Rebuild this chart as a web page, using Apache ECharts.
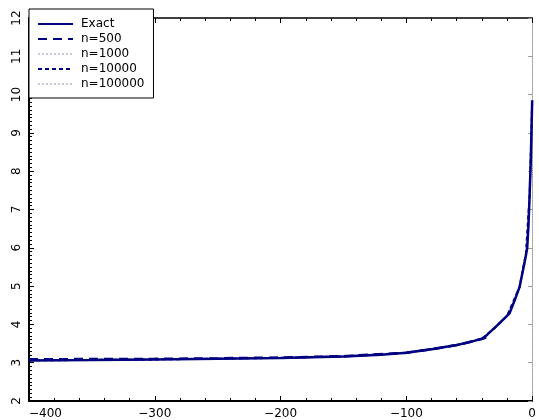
<!DOCTYPE html>
<html>
<head>
<meta charset="utf-8">
<script src="https://cdn.jsdelivr.net/npm/echarts@6/dist/echarts.min.js"></script>
<style>html,body{margin:0;padding:0;background:#fff}#c{width:539px;height:420px}</style>
</head>
<body>
<div id="c"></div>
<script>
// ---- data ----
const xExact = [-400, -350, -300, -250, -200, -150, -120, -100, -80, -60, -50, -40, -38, -28, -18, -14, -10, -8, -6, -4, -3, -2, -1, 0];
const yExact = [3.06, 3.07, 3.085, 3.10, 3.125, 3.165, 3.21, 3.26, 3.35, 3.46, 3.53, 3.63, 3.66, 3.97, 4.29, 4.62, 4.98, 5.30, 5.62, 5.98, 6.55, 7.40, 8.40, 9.85];
const x500 = [-400, -350, -300, -250, -200, -150, -100, -80, -60, -40, -34];
const y500 = [3.09, 3.095, 3.10, 3.115, 3.135, 3.17, 3.26, 3.35, 3.46, 3.62, 3.69];
const x1000 = [-400, -300, -200, -100, -60, -40, -30, -20, -10, -5, -2, 0];
const y1000 = [3.07, 3.09, 3.13, 3.26, 3.46, 3.64, 3.92, 4.24, 4.98, 5.85, 7.40, 9.85];
const x10000 = [-400, -300, -200, -150, -100, -60, -40, -30, -20, -10, -5, -2, 0];
const y10000 = [3.06, 3.085, 3.125, 3.165, 3.26, 3.46, 3.63, 3.90, 4.22, 4.98, 5.85, 7.40, 9.85];
const x100000 = [-400, -300, -200, -100, -60, -40, -20, -10, -5, -2, 0];
const y100000 = [3.06, 3.085, 3.125, 3.26, 3.46, 3.63, 4.22, 4.98, 5.85, 7.40, 9.85];
const seriesNames = ['Exact', 'n=500', 'n=1000', 'n=10000', 'n=100000'];
const xTicks = [-400, -300, -200, -100, 0];
const yTicks = [2, 3, 4, 5, 6, 7, 8, 9, 10, 11, 12];

const pairs = (xs, ys) => xs.map((x, i) => [x, ys[i]]);
const NAVY = '#000080';
const LIGHT = '#c8c8d8';
const FONT = 'DejaVu Sans';

const chart = echarts.init(document.getElementById('c'), null, {renderer: 'canvas'});
chart.setOption({
  animation: false,
  backgroundColor: '#fff',
  grid: {left: 29, right: 1, top: 18, bottom: 19, containLabel: false},
  legend: {
    data: seriesNames,
    orient: 'vertical',
    left: 29, top: 9,
    backgroundColor: '#fff',
    borderColor: '#000', borderWidth: 1, borderRadius: 0,
    padding: [9, 9, 8, 8],
    itemWidth: 35, itemHeight: 14, itemGap: 3,
    itemStyle: {opacity: 0},
    textStyle: {fontFamily: FONT, fontSize: 12, color: '#000', padding: [0, 0, 0, 3]}
  },
  xAxis: [{
    type: 'value', min: xTicks[0], max: xTicks[xTicks.length - 1], interval: 100,
    position: 'bottom',
    axisLine: {show: true, onZero: false, lineStyle: {color: '#000', width: 2}},
    axisTick: {show: true, inside: true, length: 5, lineStyle: {color: '#000', width: 1}},
    minorTick: {show: true, splitNumber: 5, length: 3, lineStyle: {color: '#000', width: 1}},
    splitLine: {show: false},
    axisLabel: {
      fontFamily: FONT, fontSize: 12, color: '#000', margin: 7,
      alignMinLabel: 'left',
      formatter: v => String(v).replace('-', '\u2212')
    }
  }, {
    type: 'value', min: xTicks[0], max: xTicks[xTicks.length - 1], interval: 100,
    position: 'top',
    axisLine: {show: true, onZero: false, lineStyle: {color: '#000', width: 1.5}},
    axisTick: {show: true, inside: true, length: 5, lineStyle: {color: '#000'}},
    minorTick: {show: true, splitNumber: 5, length: 3, lineStyle: {color: '#000'}},
    splitLine: {show: false},
    axisLabel: {show: false}
  }],
  yAxis: [{
    type: 'value', min: yTicks[0], max: yTicks[yTicks.length - 1], interval: 1,
    position: 'left',
    axisLine: {show: true, onZero: false, lineStyle: {color: '#000', width: 2}},
    axisTick: {show: true, inside: true, length: 5, lineStyle: {color: '#000'}},
    minorTick: {show: true, splitNumber: 10, length: 3, lineStyle: {color: '#000'}},
    splitLine: {show: false},
    axisLabel: {fontFamily: FONT, fontSize: 12, color: '#000', rotate: 90, margin: 6}
  }, {
    type: 'value', min: yTicks[0], max: yTicks[yTicks.length - 1], interval: 1,
    position: 'right',
    axisLine: {show: true, onZero: false, lineStyle: {color: '#999', width: 1, type: 'dotted'}},
    axisTick: {show: true, inside: true, length: 4, lineStyle: {color: '#999'}},
    minorTick: {show: false},
    splitLine: {show: false},
    axisLabel: {show: false}
  }],
  series: [
    {name: 'n=1000', type: 'line', symbol: 'none', data: pairs(x1000, y1000),
      lineStyle: {color: LIGHT, width: 1.5, type: 'dotted'}, itemStyle: {color: LIGHT}, z: 2},
    {name: 'n=100000', type: 'line', symbol: 'none', data: pairs(x100000, y100000),
      lineStyle: {color: LIGHT, width: 1, type: 'dotted'}, itemStyle: {color: LIGHT}, z: 2},
    {name: 'Exact', type: 'line', symbol: 'none', data: pairs(xExact, yExact),
      lineStyle: {color: NAVY, width: 2.5, type: 'solid'}, itemStyle: {color: NAVY}, z: 3},
    {name: 'n=500', type: 'line', symbol: 'none', data: pairs(x500, y500),
      lineStyle: {color: NAVY, width: 2.5, type: [9, 6]}, itemStyle: {color: NAVY}, z: 4},
    {name: 'n=10000', type: 'line', symbol: 'none', data: pairs(x10000, y10000),
      lineStyle: {color: NAVY, width: 2, type: [4, 3]}, itemStyle: {color: NAVY}, z: 4}
  ]
});
</script>
</body>
</html>
